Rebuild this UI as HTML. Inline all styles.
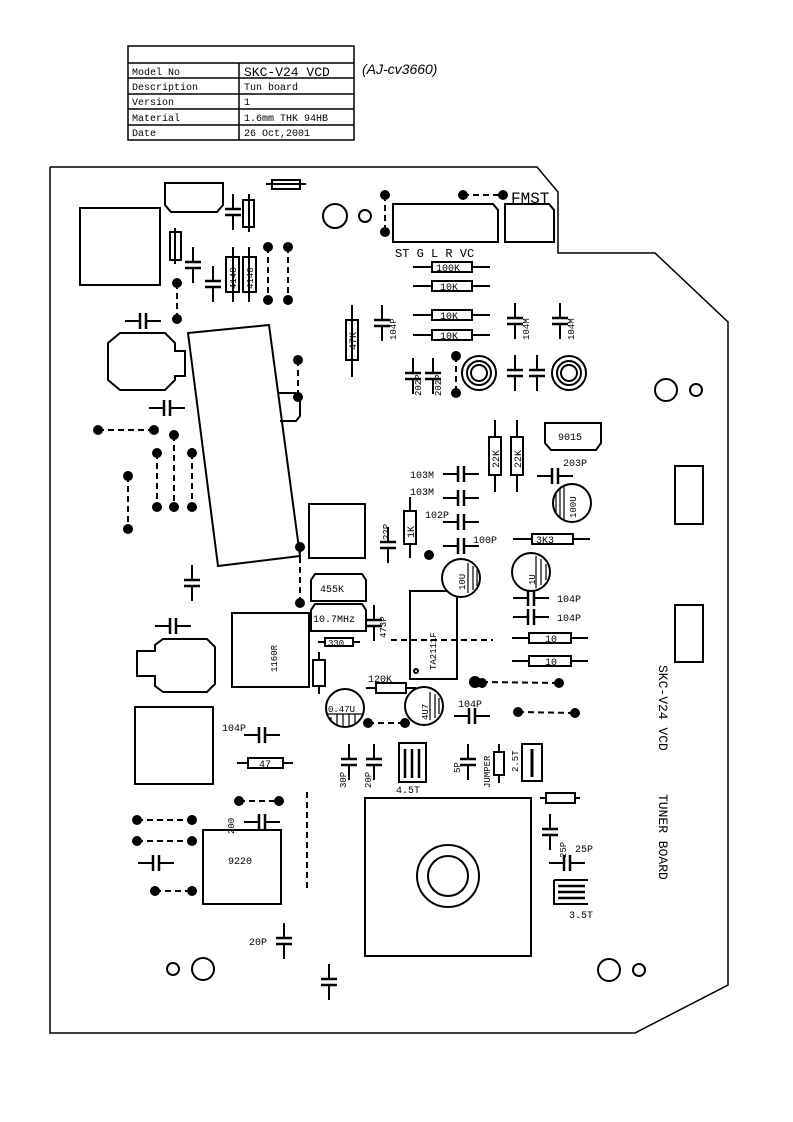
<!DOCTYPE html>
<html><head><meta charset="utf-8"><style>
html,body{margin:0;padding:0;background:#fff}
svg{display:block}
text{font-family:"Liberation Mono",monospace;fill:#000}
.s{font-family:"Liberation Sans",sans-serif}
</style></head><body>
<svg width="793" height="1122" viewBox="0 0 793 1122" xmlns="http://www.w3.org/2000/svg">
<defs>
<g id="ch"><line x1="0" y1="-18" x2="0" y2="-3" stroke="#000" stroke-width="2"/><line x1="-8" y1="-3" x2="8" y2="-3" stroke="#000" stroke-width="2.5"/><line x1="-8" y1="3" x2="8" y2="3" stroke="#000" stroke-width="2.5"/><line x1="0" y1="3" x2="0" y2="18" stroke="#000" stroke-width="2"/></g>
<g id="chh"><line x1="-18" y1="0" x2="-3" y2="0" stroke="#000" stroke-width="2"/><line x1="-3" y1="-8" x2="-3" y2="8" stroke="#000" stroke-width="2.5"/><line x1="3" y1="-8" x2="3" y2="8" stroke="#000" stroke-width="2.5"/><line x1="3" y1="0" x2="18" y2="0" stroke="#000" stroke-width="2"/></g>
</defs>
<g fill="none" stroke="#000" stroke-width="1.5">
<rect x="128" y="46" width="226" height="94"/>
<line x1="128" y1="63" x2="354" y2="63"/><line x1="128" y1="78" x2="354" y2="78"/><line x1="128" y1="94" x2="354" y2="94"/><line x1="128" y1="109" x2="354" y2="109"/><line x1="128" y1="125" x2="354" y2="125"/>
<line x1="239" y1="63" x2="239" y2="140"/>
<polyline points="50,167 537,167 558,192 558,253 655,253 728,322 728,985 635,1033 50,1033 50,167"/>
</g>
<g font-size="10">
<text x="132" y="75">Model No</text><text x="132" y="90">Description</text><text x="132" y="105">Version</text><text x="132" y="121">Material</text><text x="132" y="136">Date</text>
<text x="244" y="76" font-size="13">SKC-V24 VCD</text><text x="244" y="90">Tun board</text><text x="244" y="105">1</text><text x="244" y="121">1.6mm THK 94HB</text><text x="244" y="136">26 Oct,2001</text>
</g>
<text x="362" y="74" font-size="14" font-style="italic" class="s">(AJ-cv3660)</text>

<g fill="none" stroke="#000" stroke-width="2">
<rect x="80" y="208" width="80" height="77"/>
<path d="M165,183 H223 V205 L217,212 H171 L165,205 Z"/>
<rect x="272" y="180" width="28" height="9"/><line x1="266" y1="184" x2="306" y2="184"/>
<rect x="170" y="232" width="11" height="28"/><line x1="175" y1="228" x2="175" y2="264"/>
<rect x="243" y="200" width="11" height="27"/><line x1="249" y1="194" x2="249" y2="232"/>
<rect x="226" y="257" width="13" height="35"/><rect x="243" y="257" width="13" height="35"/>
<line x1="233" y1="247" x2="233" y2="302"/><line x1="249" y1="247" x2="249" y2="302"/>
<circle cx="335" cy="216" r="12"/><circle cx="365" cy="216" r="6"/>
<polygon points="188,333 269,325 300,556 218,566"/>
<path d="M278,393 H296 L300,398 V416 L296,421 H280"/>
<path d="M120,333 H165 L175,343 V351 H185 V376 H175 V380 L165,390 H120 L108,380 V343 Z"/>
<rect x="346" y="320" width="12" height="40"/><line x1="352" y1="305" x2="352" y2="377"/>
<path d="M393,204 H493 L498,210 V242 H393 Z"/>
<path d="M505,204 H549 L554,210 V242 H505 Z"/>
<g><line x1="413" y1="267" x2="490" y2="267"/><rect x="432" y="262" width="40" height="10" fill="#fff"/></g>
<g><line x1="413" y1="286" x2="490" y2="286"/><rect x="432" y="281" width="40" height="10" fill="#fff"/></g>
<g><line x1="413" y1="315" x2="490" y2="315"/><rect x="432" y="310" width="40" height="10" fill="#fff"/></g>
<g><line x1="413" y1="335" x2="490" y2="335"/><rect x="432" y="330" width="40" height="10" fill="#fff"/></g>
<circle cx="479" cy="373" r="17"/><circle cx="479" cy="373" r="12"/><circle cx="479" cy="373" r="8"/>
<circle cx="569" cy="373" r="17"/><circle cx="569" cy="373" r="12"/><circle cx="569" cy="373" r="8"/>
<circle cx="666" cy="390" r="11"/><circle cx="696" cy="390" r="6"/>
<line x1="495" y1="420" x2="495" y2="492"/><rect x="489" y="437" width="12" height="38" fill="#fff"/>
<line x1="517" y1="420" x2="517" y2="492"/><rect x="511" y="437" width="12" height="38" fill="#fff"/>
<path d="M545,423 H601 V443 L596,450 H551 L545,443 Z"/>
<rect x="675" y="466" width="28" height="58"/>
<circle cx="572" cy="503" r="19"/>
<line x1="513" y1="539" x2="590" y2="539"/><rect x="532" y="534" width="41" height="10" fill="#fff"/>
<rect x="309" y="504" width="56" height="54"/>
<line x1="410" y1="497" x2="410" y2="558"/><rect x="404" y="511" width="12" height="33" fill="#fff"/>
<path d="M311,580 L315,574 H362 L366,580 V601 H311 Z"/>
<path d="M311,610 L315,604 H362 L366,610 V631 H311 Z"/>
<rect x="232" y="613" width="77" height="74"/>
<line x1="318" y1="642" x2="360" y2="642"/><rect x="325" y="638" width="28" height="8" fill="#fff"/>
<line x1="319" y1="652" x2="319" y2="694"/><rect x="313" y="660" width="12" height="26" fill="#fff"/>
<rect x="410" y="591" width="47" height="88"/><circle cx="416" cy="671" r="2"/>
<circle cx="461" cy="578" r="19" fill="#fff"/>
<circle cx="531" cy="572" r="19"/>
<line x1="512" y1="638" x2="588" y2="638"/><rect x="529" y="633" width="42" height="10" fill="#fff"/>
<line x1="512" y1="661" x2="588" y2="661"/><rect x="529" y="656" width="42" height="10" fill="#fff"/>
<rect x="675" y="605" width="28" height="57"/>
<path d="M137,651 H155 V645 L163,639 H207 L215,647 V684 L207,692 H163 L155,686 V676 H137 Z"/>
<line x1="366" y1="688" x2="416" y2="688"/><rect x="376" y="683" width="30" height="10" fill="#fff"/>
<circle cx="345" cy="708" r="19"/><circle cx="424" cy="706" r="19"/>
<rect x="135" y="707" width="78" height="77"/>
<line x1="237" y1="763" x2="293" y2="763"/><rect x="248" y="758" width="35" height="10" fill="#fff"/>
<rect x="399" y="743" width="27" height="39"/>
<line x1="499" y1="744" x2="499" y2="783"/><rect x="494" y="752" width="10" height="23" fill="#fff"/>
<rect x="522" y="744" width="20" height="37"/>
<rect x="365" y="798" width="166" height="158"/>
<circle cx="448" cy="876" r="31"/><circle cx="448" cy="876" r="20"/>
<line x1="540" y1="798" x2="580" y2="798"/><rect x="546" y="793" width="29" height="10" fill="#fff"/>
<rect x="203" y="830" width="78" height="74"/>
<circle cx="173" cy="969" r="6"/><circle cx="203" cy="969" r="11"/>
<circle cx="609" cy="970" r="11"/><circle cx="639" cy="970" r="6"/>
<path d="M554,880 H588 M554,880 V904 H588"/>
</g>
<g stroke="#000" stroke-width="1.2">
<line x1="468" y1="563" x2="468" y2="593"/><line x1="473" y1="566" x2="473" y2="590"/><line x1="477" y1="570" x2="477" y2="586"/>
<line x1="536" y1="556" x2="536" y2="588"/><line x1="541" y1="559" x2="541" y2="585"/><line x1="546" y1="564" x2="546" y2="580"/>
<line x1="556" y1="492" x2="556" y2="514"/><line x1="560" y1="488" x2="560" y2="518"/><line x1="564" y1="486" x2="564" y2="520"/>
<line x1="331" y1="717" x2="331" y2="722"/><line x1="337" y1="714" x2="337" y2="725"/><line x1="343" y1="714" x2="343" y2="727"/><line x1="349" y1="714" x2="349" y2="727"/><line x1="355" y1="714" x2="355" y2="725"/><line x1="326" y1="714" x2="364" y2="714"/>
<line x1="430" y1="692" x2="430" y2="720"/><line x1="435" y1="694" x2="435" y2="718"/><line x1="439" y1="698" x2="439" y2="714"/>
<line x1="405" y1="749" x2="405" y2="778" stroke-width="2.5"/><line x1="412" y1="749" x2="412" y2="778" stroke-width="2.5"/><line x1="419" y1="749" x2="419" y2="778" stroke-width="2.5"/>
<line x1="532" y1="749" x2="532" y2="777" stroke-width="3"/>
<line x1="558" y1="886" x2="585" y2="886" stroke-width="2.5"/><line x1="558" y1="892" x2="585" y2="892" stroke-width="2.5"/><line x1="558" y1="898" x2="585" y2="898" stroke-width="2.5"/>
</g>
<use href="#ch" x="233" y="212"/><use href="#ch" x="193" y="265"/><use href="#ch" x="213" y="284"/>
<use href="#chh" x="143" y="321"/><use href="#chh" x="167" y="408"/>
<use href="#ch" x="382" y="323"/><use href="#ch" x="413" y="376"/><use href="#ch" x="433" y="376"/>
<use href="#ch" x="515" y="321"/><use href="#ch" x="560" y="321"/><use href="#ch" x="515" y="373"/><use href="#ch" x="537" y="373"/>
<use href="#chh" x="461" y="474"/><use href="#chh" x="461" y="498"/><use href="#chh" x="461" y="522"/><use href="#chh" x="461" y="546"/>
<use href="#chh" x="555" y="476"/>
<use href="#ch" x="388" y="545"/><use href="#ch" x="192" y="583"/>
<use href="#ch" x="374" y="623"/>
<use href="#chh" x="531" y="598"/><use href="#chh" x="531" y="617"/>
<use href="#chh" x="173" y="626"/><use href="#chh" x="472" y="716"/>
<use href="#chh" x="262" y="735"/><use href="#ch" x="349" y="762"/><use href="#ch" x="374" y="762"/><use href="#ch" x="468" y="762"/>
<use href="#chh" x="262" y="822"/><use href="#chh" x="156" y="863"/>
<use href="#ch" x="550" y="832"/><use href="#chh" x="567" y="863"/>
<use href="#ch" x="284" y="941"/><use href="#ch" x="329" y="982"/>
<g stroke="#000" stroke-width="2" stroke-dasharray="6,4">
<line x1="385" y1="195" x2="385" y2="232"/><line x1="463" y1="195" x2="503" y2="195"/>
<line x1="268" y1="247" x2="268" y2="300"/><line x1="288" y1="247" x2="288" y2="300"/>
<line x1="177" y1="283" x2="177" y2="319"/><line x1="298" y1="360" x2="298" y2="397"/>
<line x1="456" y1="356" x2="456" y2="393"/>
<line x1="98" y1="430" x2="154" y2="430"/><line x1="174" y1="435" x2="174" y2="507"/><line x1="157" y1="453" x2="157" y2="507"/><line x1="192" y1="453" x2="192" y2="507"/><line x1="128" y1="476" x2="128" y2="529"/>
<line x1="300" y1="547" x2="300" y2="603"/>
<line x1="391" y1="640" x2="493" y2="640"/>
<line x1="482" y1="682" x2="559" y2="683"/><line x1="518" y1="712" x2="575" y2="713"/><line x1="368" y1="723" x2="405" y2="723"/>
<line x1="239" y1="801" x2="279" y2="801"/><line x1="137" y1="820" x2="192" y2="820"/><line x1="137" y1="841" x2="192" y2="841"/><line x1="155" y1="891" x2="192" y2="891"/>
<line x1="307" y1="792" x2="307" y2="891"/>
</g>
<g fill="#000">
<circle cx="385" cy="195" r="5"/><circle cx="385" cy="232" r="5"/><circle cx="463" cy="195" r="5"/><circle cx="503" cy="195" r="5"/>
<circle cx="268" cy="247" r="5"/><circle cx="268" cy="300" r="5"/><circle cx="288" cy="247" r="5"/><circle cx="288" cy="300" r="5"/>
<circle cx="177" cy="283" r="5"/><circle cx="177" cy="319" r="5"/><circle cx="298" cy="360" r="5"/><circle cx="298" cy="397" r="5"/>
<circle cx="456" cy="356" r="5"/><circle cx="456" cy="393" r="5"/>
<circle cx="98" cy="430" r="5"/><circle cx="154" cy="430" r="5"/><circle cx="174" cy="435" r="5"/><circle cx="157" cy="453" r="5"/><circle cx="192" cy="453" r="5"/>
<circle cx="157" cy="507" r="5"/><circle cx="174" cy="507" r="5"/><circle cx="192" cy="507" r="5"/><circle cx="128" cy="476" r="5"/><circle cx="128" cy="529" r="5"/>
<circle cx="300" cy="547" r="5"/><circle cx="300" cy="603" r="5"/><circle cx="429" cy="555" r="5"/>
<circle cx="475" cy="682" r="6"/><circle cx="482" cy="683" r="5"/><circle cx="559" cy="683" r="5"/><circle cx="518" cy="712" r="5"/><circle cx="575" cy="713" r="5"/>
<circle cx="368" cy="723" r="5"/><circle cx="405" cy="723" r="5"/>
<circle cx="239" cy="801" r="5"/><circle cx="279" cy="801" r="5"/><circle cx="137" cy="820" r="5"/><circle cx="192" cy="820" r="5"/>
<circle cx="137" cy="841" r="5"/><circle cx="192" cy="841" r="5"/><circle cx="155" cy="891" r="5"/><circle cx="192" cy="891" r="5"/>
</g>
<g font-size="10">
<text x="511" y="203" font-size="16">FMST</text>
<text x="395" y="257" font-size="12">ST  G  L  R VC</text>
<text x="436" y="271">100K</text><text x="440" y="290">10K</text><text x="440" y="319">10K</text><text x="440" y="339">10K</text>
<text x="536" y="543">3K3</text><text x="558" y="440">9015</text><text x="563" y="466">203P</text>
<text x="410" y="478">103M</text><text x="410" y="495">103M</text><text x="425" y="518">102P</text><text x="473" y="543">100P</text>
<text x="320" y="592">455K</text><text x="313" y="622">10.7MHz</text><text x="328" y="646" font-size="9">330</text>
<text x="557" y="602">104P</text><text x="557" y="621">104P</text><text x="545" y="642">10</text><text x="545" y="665">10</text>
<text x="368" y="682">120K</text><text x="458" y="707">104P</text><text x="222" y="731">104P</text><text x="259" y="767">47</text>
<text x="328" y="712" font-size="9">0.47U</text><text x="228" y="864">9220</text>
<text x="396" y="793">4.5T</text><text x="569" y="918">3.5T</text><text x="575" y="852">25P</text>
<text x="249" y="945">20P</text>
</g>
<g font-size="9">
<text transform="translate(236,289) rotate(-90)">4148</text><text transform="translate(253,289) rotate(-90)">4148</text>
<text transform="translate(356,350) rotate(-90)" font-size="10">47K</text>
<text transform="translate(396,340) rotate(-90)">104P</text>
<text transform="translate(421,396) rotate(-90)">202P</text><text transform="translate(441,396) rotate(-90)">202P</text>
<text transform="translate(529,340) rotate(-90)">104M</text><text transform="translate(574,340) rotate(-90)">104M</text>
<text transform="translate(499,468) rotate(-90)" font-size="10">22K</text><text transform="translate(521,468) rotate(-90)" font-size="10">22K</text>
<text transform="translate(576,518) rotate(-90)">100U</text>
<text transform="translate(389,540) rotate(-90)">22P</text><text transform="translate(414,538) rotate(-90)" font-size="10">1K</text>
<text transform="translate(386,638) rotate(-90)">473P</text>
<text transform="translate(436,670) rotate(-90)">TA2111F</text>
<text transform="translate(465,590) rotate(-90)">10U</text><text transform="translate(535,585) rotate(-90)">1U</text>
<text transform="translate(277,672) rotate(-90)">1160R</text>
<text transform="translate(428,720) rotate(-90)">4U7</text>
<text transform="translate(346,788) rotate(-90)">30P</text><text transform="translate(371,788) rotate(-90)">20P</text>
<text transform="translate(460,773) rotate(-90)">5P</text><text transform="translate(490,788) rotate(-90)">JUMPER</text>
<text transform="translate(518,772) rotate(-90)">2.5T</text>
<text transform="translate(234,834) rotate(-90)">200</text>
<text transform="translate(566,858) rotate(-90)">25P</text>
</g>
<g font-size="13">
<text transform="translate(659,665) rotate(90)">SKC-V24 VCD</text>
<text transform="translate(659,794) rotate(90)">TUNER BOARD</text>
</g>
</svg>
</body></html>
